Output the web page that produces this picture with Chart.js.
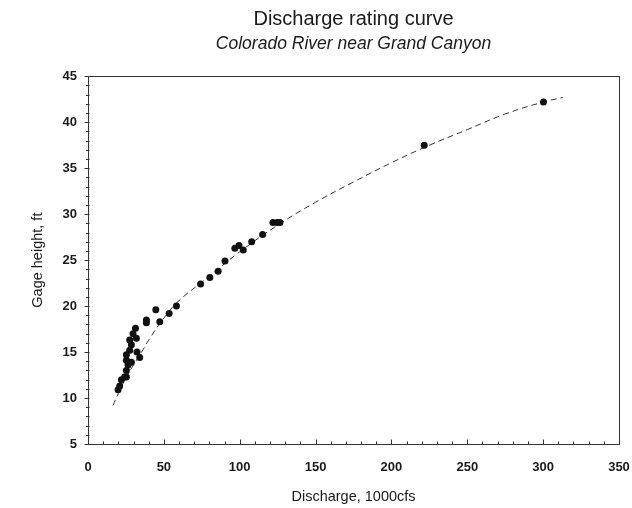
<!DOCTYPE html>
<html>
<head>
<meta charset="utf-8">
<script src="https://cdn.jsdelivr.net/npm/chart.js@4.4.1/dist/chart.umd.min.js"></script>
<style>
html,body{margin:0;padding:0;background:#fff;}
canvas{display:block;}
</style>
</head>
<body>
<canvas id="c" width="632" height="508"></canvas>
<script>
// Observed measurements (discharge in 1000 cfs, gage height in ft)
const discharge = [19.8, 20.9, 22.0, 24.2, 25.3, 25.3, 26.4, 28.6, 25.3, 34.1, 25.3, 32.3, 27.5, 28.6, 27.5, 31.9, 29.7, 31.3, 38.5, 38.5, 47.3, 53.5, 44.7, 58.3, 74.2, 80.3, 85.8, 90.3, 96.8, 99.5, 102.3, 107.9, 115.1, 121.9, 124.6, 126.5, 221.6, 300.2];
const gageHeight = [10.9, 11.3, 12.0, 12.3, 12.3, 13.0, 13.6, 13.9, 14.1, 14.4, 14.7, 15.0, 15.2, 15.8, 16.3, 16.5, 17.0, 17.6, 18.2, 18.5, 18.3, 19.2, 19.6, 20.0, 22.4, 23.1, 23.8, 24.9, 26.3, 26.6, 26.1, 27.0, 27.8, 29.1, 29.1, 29.1, 37.5, 42.2];
// Fitted rating curve
const curveQ = [16.5, 20, 25, 30, 35, 40, 50, 60, 75, 100, 125, 150, 175, 200, 225, 250, 275, 300, 313];
const curveH = [9.2, 10.5, 12.2, 13.6, 14.9, 16.3, 18.7, 20.6, 22.6, 25.9, 28.8, 31.3, 33.5, 35.6, 37.5, 39.2, 40.9, 42.2, 42.7];
// Axis settings
const xMin = 0, xMax = 350, xMinorStep = 10, xMajorStep = 50;
const yMin = 5, yMax = 45, yMinorStep = 1, yMajorStep = 5;
const titleText = 'Discharge rating curve';
const subtitleText = 'Colorado River near Grand Canyon';
const xTitle = 'Discharge, 1000cfs';
const yTitle = 'Gage height, ft';

const ink = '#1a1a1a';
const FONT = "'Liberation Sans', Arial, sans-serif";

const framePlugin = {
  id: 'frame',
  afterDraw(chart) {
    const {ctx, chartArea: a, scales: {x, y}} = chart;
    ctx.save();
    ctx.strokeStyle = '#333';
    ctx.lineWidth = 1;
    const L = Math.round(a.left) + 0.5, T = Math.round(a.top) + 0.5;
    const R = Math.round(a.right) + 0.5, B = Math.round(a.bottom) + 0.5;
    ctx.strokeRect(L, T, R - L, B - T);
    ctx.beginPath();
    // inward x ticks
    for (let v = xMin; v <= xMax; v += xMinorStep) {
      const px = Math.round(x.getPixelForValue(v)) + 0.5;
      const len = (v % xMajorStep === 0) ? 5 : 3;
      ctx.moveTo(px, B);
      ctx.lineTo(px, B - len);
    }
    // outward y ticks
    for (let v = yMin; v <= yMax; v += yMinorStep) {
      const py = Math.round(y.getPixelForValue(v)) + 0.5;
      const len = (v % yMajorStep === 0) ? 4 : 2.5;
      ctx.moveTo(L - len, py);
      ctx.lineTo(L + 1, py);
    }
    ctx.stroke();
    ctx.restore();
  }
};

const points = discharge.map((q, i) => ({x: q, y: gageHeight[i]}));
const curve = curveQ.map((q, i) => ({x: q, y: curveH[i]}));

new Chart(document.getElementById('c'), {
  type: 'scatter',
  data: {
    datasets: [
      {
        label: 'Rating curve',
        data: curve,
        showLine: true,
        borderColor: '#333',
        borderWidth: 1,
        borderDash: [6, 4],
        pointRadius: 0,
        tension: 0.4,
        order: 2
      },
      {
        label: 'Measurements',
        data: points,
        showLine: false,
        pointRadius: 3.5,
        pointBackgroundColor: '#111',
        pointBorderColor: '#111',
        pointBorderWidth: 0,
        order: 1
      }
    ]
  },
  options: {
    responsive: false,
    animation: false,
    layout: {padding: {top: 0, right: 13, bottom: 0, left: 0}},
    plugins: {
      legend: {display: false},
      tooltip: {enabled: false},
      title: {
        display: true,
        text: titleText,
        fullSize: false,
        color: ink,
        font: {family: FONT, size: 20, weight: 'normal'},
        padding: {top: 7, bottom: 0}
      },
      subtitle: {
        display: true,
        text: subtitleText,
        fullSize: false,
        color: ink,
        font: {family: FONT, size: 17.5, style: 'italic'},
        padding: {top: 3, bottom: 21.3}
      }
    },
    scales: {
      x: {
        type: 'linear',
        min: xMin, max: xMax,
        afterFit(s) { s.height = 64; s.paddingLeft = 0; s.paddingRight = 0; },
        grid: {display: false, drawTicks: false},
        border: {display: false},
        ticks: {
          stepSize: xMinorStep,
          autoSkip: false,
          maxRotation: 0,
          padding: 16,
          color: ink,
          font: {family: FONT, size: 13, weight: 'bold'},
          callback: v => (v % xMajorStep === 0 ? String(v) : '')
        },
        title: {
          display: true,
          text: xTitle,
          color: ink,
          font: {family: FONT, size: 14.5},
          padding: {top: 0, bottom: 2}
        }
      },
      y: {
        type: 'linear',
        min: yMin, max: yMax,
        afterFit(s) { s.width = 88; s.paddingTop = 0; s.paddingBottom = 0; },
        grid: {display: false, drawTicks: false},
        border: {display: false},
        ticks: {
          stepSize: yMinorStep,
          autoSkip: false,
          padding: 11,
          color: ink,
          font: {family: FONT, size: 13, weight: 'bold'},
          callback: v => (v % yMajorStep === 0 ? String(v) : '')
        },
        title: {
          display: true,
          text: yTitle,
          color: ink,
          font: {family: FONT, size: 14.5},
          padding: {top: 29, bottom: 0}
        }
      }
    }
  },
  plugins: [framePlugin]
});
</script>
</body>
</html>
